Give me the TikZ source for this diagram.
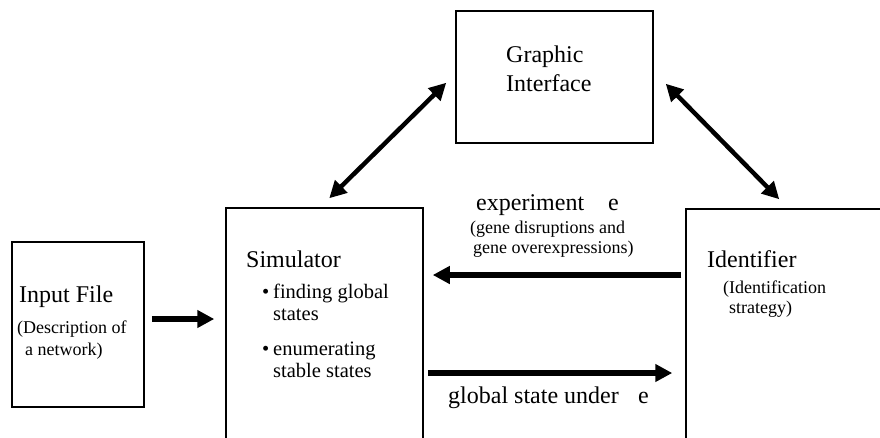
\documentclass[tikz,border=0pt]{standalone}
\usepackage{fontspec}
\setmainfont{Liberation Serif}
\usetikzlibrary{arrows.meta,calc}
\begin{document}
\begin{tikzpicture}[x=1pt,y=-1pt,
  box/.style={draw,line width=1.5pt,rectangle,inner sep=0pt},
  big/.style={anchor=base west,inner sep=0pt,font=\fontsize{24}{28}\selectfont},
  small/.style={anchor=base west,inner sep=0pt,font=\fontsize{18}{21}\selectfont},
  mid/.style={anchor=base west,inner sep=0pt,font=\fontsize{20.5}{24}\selectfont},
  harr/.style={line width=5.5pt,-{Triangle[length=17pt,width=17pt]}},
  darr/.style={line width=4.5pt,{Triangle[length=17pt,width=17pt]}-{Triangle[length=17pt,width=17pt]}}]
\clip (0,0) rectangle (880,437);
\fill[white] (0,0) rectangle (880,437);
% boxes
\node[box,minimum width=132pt,minimum height=165pt] (inp) at (78,324.5) {};
\node[box,minimum width=197pt,minimum height=260pt] (sim) at (324.5,338) {};
\node[box,minimum width=260pt,minimum height=260pt] (idn) at (816,339) {};
\node[box,minimum width=197pt,minimum height=132pt] (gui) at (554.5,77) {};
% texts
\node[big] (t1) at (19,302) {Input File};
\node[small] (t2) at (17,333) {(Description of};
\node[small] (t3) at (25,355) {a network)};
\node[big] (t4) at (246,267) {Simulator};
\node[mid] (b1) at (262,298) {\textbullet};
\node[mid] (t5) at (273,298) {finding global};
\node[mid] (t6) at (273,320) {states};
\node[mid] (b2) at (262,355) {\textbullet};
\node[mid] (t7) at (273,355) {enumerating};
\node[mid] (t8) at (273,377) {stable states};
\node[big] (t9) at (506,62) {Graphic};
\node[big] (t10) at (506,91) {Interface};
\node[big] (t11) at (476,210) {experiment};
\node[big] (t12) at (608,210) {e};
\node[small] (t13) at (470,233) {(gene disruptions and};
\node[small] (t14) at (473,253) {gene overexpressions)};
\node[big] (t15) at (707,267) {Identifier};
\node[small] (t16) at (723,293) {(Identification};
\node[small] (t17) at (729,313) {strategy)};
\node[big] (t18) at (448,403) {global state under};
\node[big] (t19) at (638,403) {e};
% connectors
\coordinate (r1) at (0,319);
\coordinate (r2) at (0,275);
\coordinate (r3) at (0,373);
\draw[harr,shorten <=7pt,shorten >=11pt] (inp.east |- r1) -- (sim.west |- r1);
\draw[harr,shorten <=4pt,shorten >=9pt] (idn.west |- r2) -- (sim.east |- r2);
\draw[harr,shorten <=4pt,shorten >=13pt] (sim.east |- r3) -- (idn.west |- r3);
\draw[darr] ($(sim.north west)+(104,-9)$) -- ($(gui.south west)+(-9,-61)$);
\draw[darr] ($(gui.south east)+(12,-60)$) -- ($(idn.north west)+(94,-9)$);
\end{tikzpicture}
\end{document}
